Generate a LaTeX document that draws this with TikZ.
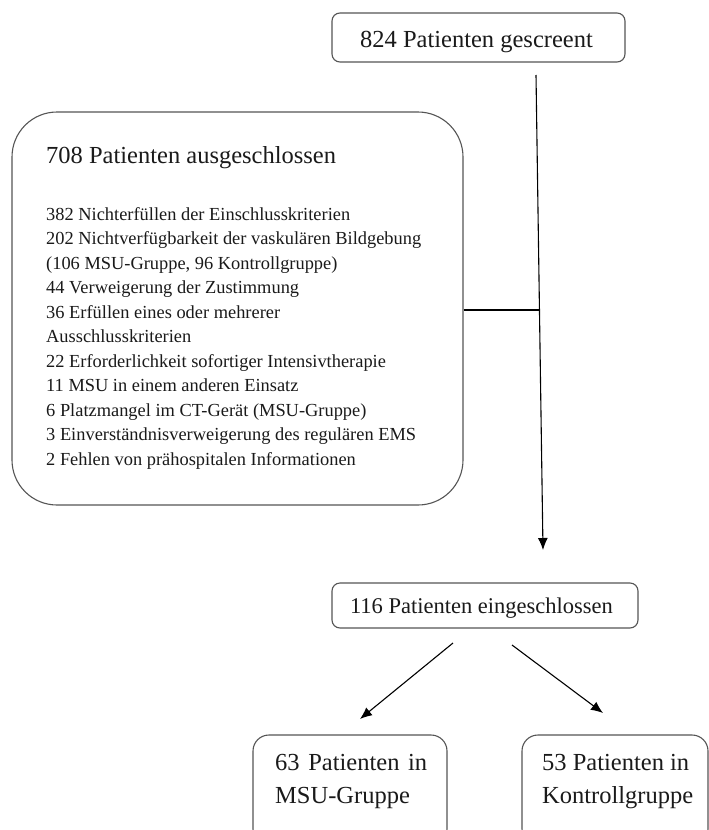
\documentclass[tikz,border=0pt]{standalone}
\usepackage{fontspec}
\setmainfont{Liberation Serif}
\usetikzlibrary{arrows.meta}
\definecolor{boxgray}{HTML}{555555}
\definecolor{txtcol}{HTML}{1A1A1A}
\begin{document}
\begin{tikzpicture}[x=1pt,y=-1pt,
  box/.style={draw=boxgray, line width=1.1pt, rounded corners=8pt, inner sep=0pt, fill=white},
  txt/.style={inner sep=0pt, text=txtcol},
  conn/.style={draw=black, line width=1.1pt},
  arr/.style={conn, -{Latex[length=12pt,width=10pt]}},
  bigfont/.style={font=\fontsize{24.5}{33}\selectfont},
  listfont/.style={font=\fontsize{18.4}{24.5}\selectfont}]
\useasboundingbox (0,0) rectangle (709,830);
\clip (0,0) rectangle (709,830);
\fill[white] (0,0) rectangle (709,830);

% boxes
\node[box, minimum width=293pt, minimum height=49pt] (screen) at (478.5,37.5) {};
\node[box, rounded corners=45pt, minimum width=451pt, minimum height=393pt] (excl) at (237.5,308.5) {};
\node[box, minimum width=306pt, minimum height=45pt] (incl) at (485,605.5) {};
\node[box, rounded corners=16pt, minimum width=194pt, minimum height=110pt] (msu) at (350,790) {};
\node[box, rounded corners=16pt, minimum width=186pt, minimum height=110pt] (ktrl) at (615,790) {};

% texts (multi-line nodes: base anchor = last line's baseline)
\node[txt, bigfont, anchor=base] (screentxt) at (476.5,47) {824 Patienten gescreent};
\node[txt, bigfont, anchor=base west] (excltitle) at (46,163) {708 Patienten ausgeschlossen};
\node[txt, listfont, anchor=base west, align=left] (excllist) at (46,465) {382 Nichterfüllen der Einschlusskriterien\\
202 Nichtverfügbarkeit der vaskulären Bildgebung\\
(106 MSU-Gruppe, 96 Kontrollgruppe)\\
44 Verweigerung der Zustimmung\\
36 Erfüllen eines oder mehrerer\\
Ausschlusskriterien\\
22 Erforderlichkeit sofortiger Intensivtherapie\\
11 MSU in einem anderen Einsatz\\
6 Platzmangel im CT-Gerät (MSU-Gruppe)\\
3 Einverständnisverweigerung des regulären EMS\\
2 Fehlen von prähospitalen Informationen};
\node[txt, font=\fontsize{22.5}{28}\selectfont, anchor=base] (incltxt) at (481.5,613) {116 Patienten eingeschlossen};
\node[txt, bigfont, anchor=base west, align=left] (msutxt) at (275,803) {\makebox[152pt][s]{63 Patienten in}\\MSU-Gruppe};
\node[txt, bigfont, anchor=base west, align=left] (ktrltxt) at (542,803) {53 Patienten in\\Kontrollgruppe};

% connectors
\coordinate (vtop) at (536,75);
\coordinate (vbot) at (543,550);
\coordinate (join) at (539.5,310);
\draw[arr] (vtop) -- (vbot);
\draw[conn] (excl.east |- join) -- (join);
\coordinate (l1) at (453,643);
\coordinate (l2) at (360,719);
\coordinate (r1) at (512,645);
\coordinate (r2) at (603,713);
\draw[arr] (l1) -- (l2);
\draw[arr] (r1) -- (r2);
\end{tikzpicture}
\end{document}
